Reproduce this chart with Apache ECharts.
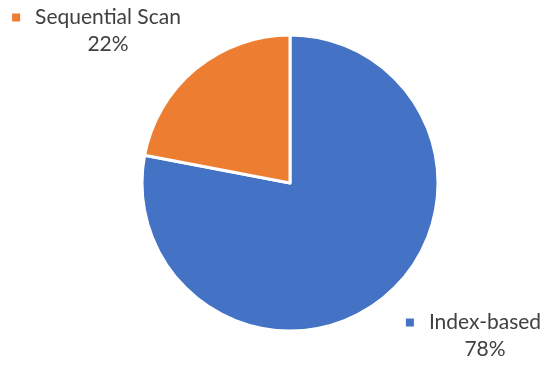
<!DOCTYPE html>
<html><head><meta charset="utf-8">
<script src="https://cdn.jsdelivr.net/npm/echarts@6/dist/echarts.min.js"></script>
<style>html,body{margin:0;padding:0;background:#fff}#c{width:550px;height:369px}</style>
</head><body><div id="c"></div>
<script>
const categories = ['Index-based', 'Sequential Scan'];
const values = [78, 22];
const colors = ['#4472C4', '#ED7D31'];
const labelPos = [[485, 336], [108, 31]];

const chart = echarts.init(document.getElementById('c'));
chart.setOption({
  animation: false,
  series: [{
    type: 'pie',
    center: [290, 183],
    radius: [0, 148],
    startAngle: 90,
    clockwise: true,
    itemStyle: { borderColor: '#fff', borderWidth: 3 },
    data: categories.map((c, i) => ({ name: c, value: values[i], itemStyle: { color: colors[i] },
      label: { rich: { m: { backgroundColor: colors[i], width: 8, height: 8 } } } })),
    labelLine: { show: false },
    label: {
      show: true,
      position: 'outside',
      overflow: 'none',
      alignTo: 'none',
      align: 'center',
      fontFamily: 'Lato',
      formatter: p => '{m|}{g|}{n|' + p.name + '}{g|}{h|}\n{p|' + p.value + '%}',
      rich: {
        g: { width: 15, height: 8 },
        h: { width: 8, height: 8 },
        n: { fontSize: 21, color: '#404040', fontFamily: 'Lato', lineHeight: 27 },
        p: { fontSize: 21, color: '#404040', fontFamily: 'Lato', lineHeight: 27 }
      }
    },
    labelLayout: p => ({ x: labelPos[p.dataIndex][0], y: labelPos[p.dataIndex][1], align: 'center', verticalAlign: 'middle', width: 300 })
  }]
});
</script></body></html>
